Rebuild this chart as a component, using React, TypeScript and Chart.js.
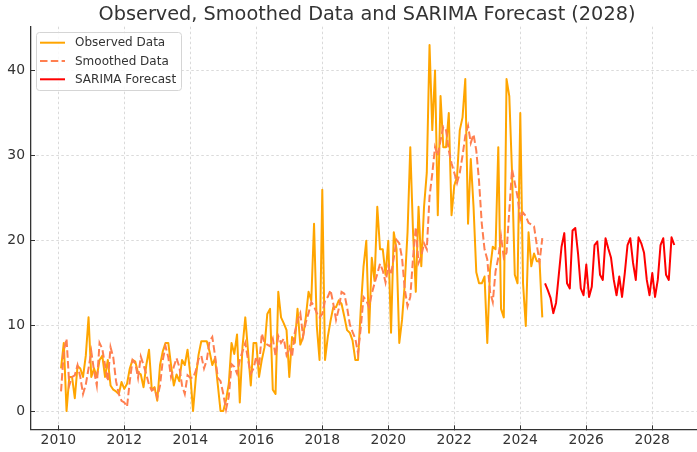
import React, { useEffect, useRef } from "react";
import { Chart, registerables } from "chart.js";

Chart.register(...registerables);

const TITLE = "Observed, Smoothed Data and SARIMA Forecast (2028)";
const START_YEAR = 2010;

// Monthly observed values, Jan 2010 – Aug 2024
const observed = [
  5, 8, 0, 4, 4, 1.5, 5.3, 5, 4, 6.5, 11, 4,
  5, 4, 6, 6.5, 4, 6, 3, 2.5, 2.3, 2, 3.4, 2.6,
  3.2, 5, 6, 5.8, 4.5, 4.3, 2.8, 5.4, 7.2, 2.5, 2.8, 1.2,
  5.4, 7, 8, 8, 5.4, 3, 4.3, 3.5, 6, 5.4, 7.2, 4.3,
  0, 3.9, 6.6, 8.2, 8.2, 8.2, 7, 5.4, 6.2, 3.1, 0, 0,
  1.3, 3.2, 8, 6.7, 9, 1, 7.6, 11, 7, 3, 8, 8,
  4, 6, 7.5, 11.4, 12, 2.5, 2, 14, 11, 10.3, 9.5, 4,
  8.7, 8, 12, 7.8, 8.7, 11, 14, 13, 22, 10, 6, 26,
  6, 8.7, 10.6, 12.2, 12.2, 13, 12.6, 11.1, 9.5, 9.2, 8.3, 6,
  6, 12, 17, 20, 9.2, 18, 15.3, 24, 19, 19, 16, 20,
  9.2, 21, 19, 8, 10.7, 15, 21, 31, 21, 14, 24, 17,
  24, 28, 43, 33, 40, 23, 37, 31, 31, 35, 23, 26.5,
  27.5, 33, 34.5, 39, 22, 29.6, 24, 16.3, 15, 15, 15.8, 8,
  16.6, 19.3, 19, 31, 12, 11, 39, 37, 28, 16, 15, 35,
  15, 10, 21, 17, 18.5, 17.6, 17.6, 11,
];

// Smoothed values, same months
const smoothed = [
  2.3, 7, 8.5, 3, 4, 4.2, 5.4, 4, 2, 3.1, 5, 7,
  4.7, 3, 8, 7.3, 5.4, 3.5, 7.5, 6.3, 3.5, 2, 1.2, 1,
  0.5, 3.5, 6, 5.6, 3.9, 6.4, 5.4, 4.3, 3.1, 2.4, 2.6, 1.6,
  3, 6, 7.6, 6.3, 4, 5.2, 6.2, 5.2, 3, 2, 4.2, 3.9,
  3.9, 4.7, 6.1, 6.5, 5, 6, 8.2, 8.7, 6.5, 3.9, 3.5, 2,
  0.2, 1.7, 5.5, 5.2, 4.4, 6, 7, 8, 6, 4.4, 5, 6.4,
  5.2, 9.1, 8, 7.8, 7.6, 8.5, 6.5, 8.8, 8, 8.5, 6.6, 7.5,
  6.4, 9.2, 10.7, 11.5, 8.8, 10.4, 11.5, 12.8, 12.3, 11.5, 11, 11.4,
  13, 13.4, 14.2, 12.6, 10.7, 12, 14, 13.8, 12.2, 10.2, 9.3, 8.5,
  6.8, 9.8, 13.4, 13, 12.2, 13.8, 15, 16.1, 17.3, 16.5, 15.1, 17,
  16, 18, 20.1, 19.7, 18, 14.3, 12.3, 13.4, 18, 21.6, 17.4, 18.2,
  19.7, 19, 25.2, 27.9, 31, 30, 31.8, 33.4, 33, 30.6, 29.1, 28,
  26.8, 28, 30, 32.3, 33.5, 31.5, 32.5, 30.6, 27, 22, 19, 17.8,
  14, 12.8, 16.4, 18, 20.5, 18, 18.6, 23.5, 28.4, 26.8, 25.2, 22.5,
  23.3, 22.9, 22.1, 21.9, 21.7, 19.5, 17.5, 20.3,
];

// SARIMA forecast, Sep 2024 – Aug 2028
const forecast = [
  15, 14.2, 13.3, 11.5, 12.7, 16, 19.3, 20.9, 15, 14.4, 21.2, 21.5,
  18.5, 14.4, 13.6, 17.2, 13.4, 14.6, 19.5, 19.9, 16, 15.4, 20.3, 19.1,
  18, 15.4, 13.6, 15.8, 13.4, 16.2, 19.5, 20.3, 17.4, 15.4, 20.4, 19.7,
  18.6, 15.4, 13.6, 16.2, 13.4, 15.4, 19.5, 20.3, 16, 15.4, 20.4, 19.5,
];

const xTicks = [2010, 2012, 2014, 2016, 2018, 2020, 2022, 2024, 2026, 2028];
const yTicks = [0, 10, 20, 30, 40];

const monthToYear = (i: number) => START_YEAR + (i + 1) / 12;

const TEXT = "#333333";
const FONT = "DejaVu Sans";

function roundedRect(ctx: CanvasRenderingContext2D, x: number, y: number, w: number, h: number, r: number) {
  ctx.beginPath();
  ctx.moveTo(x + r, y);
  ctx.arcTo(x + w, y, x + w, y + h, r);
  ctx.arcTo(x + w, y + h, x, y + h, r);
  ctx.arcTo(x, y + h, x, y, r);
  ctx.arcTo(x, y, x + w, y, r);
  ctx.closePath();
}

const titlePlugin = {
  id: "mplTitle",
  afterDraw(chart: any) {
    const ctx = chart.ctx as CanvasRenderingContext2D;
    ctx.save();
    ctx.font = `19.3px "${FONT}"`;
    ctx.fillStyle = TEXT;
    ctx.textAlign = "center";
    ctx.textBaseline = "alphabetic";
    ctx.fillText(TITLE, 367, 20);
    ctx.restore();
  },
};

const legendPlugin = {
  id: "mplLegend",
  afterDraw(chart: any) {
    const ctx = chart.ctx as CanvasRenderingContext2D;
    ctx.save();
    roundedRect(ctx, 36.5, 32.5, 145, 58, 3);
    ctx.fillStyle = "rgba(255,255,255,0.85)";
    ctx.fill();
    ctx.strokeStyle = "#d5d5d5";
    ctx.lineWidth = 1;
    ctx.stroke();
    chart.data.datasets.forEach((ds: any, i: number) => {
      const y = 42.7 + i * 18.3;
      ctx.beginPath();
      ctx.setLineDash(ds.borderDash || []);
      ctx.strokeStyle = ds.borderColor;
      ctx.lineWidth = ds.borderWidth;
      ctx.moveTo(40, y);
      ctx.lineTo(65, y);
      ctx.stroke();
      ctx.setLineDash([]);
      ctx.fillStyle = TEXT;
      ctx.font = `12px "${FONT}"`;
      ctx.textAlign = "left";
      ctx.textBaseline = "middle";
      ctx.fillText(ds.label, 75, y + 0.5);
    });
    ctx.restore();
  },
};

export default function App() {
  const canvasRef = useRef<HTMLCanvasElement | null>(null);

  useEffect(() => {
    document.body.style.margin = "0";
    const canvas = canvasRef.current;
    if (!canvas) return;

    const obsPts = observed.map((v, i) => ({ x: monthToYear(i), y: v }));
    const smPts = smoothed.map((v, i) => ({ x: monthToYear(i), y: v }));
    const fcPts = forecast.map((v, i) => ({ x: monthToYear(observed.length + i), y: v }));

    const gridCommon = {
      color: "#d0d0d0",
      lineWidth: 0.8,
      tickLength: -4,
      tickColor: "#333333",
      tickWidth: 1,
    };

    const chart = new Chart(canvas, {
      type: "line",
      data: {
        datasets: [
          {
            label: "Observed Data",
            data: obsPts,
            borderColor: "#FFA500",
            borderWidth: 2,
            borderJoinStyle: "round",
            pointRadius: 0,
            tension: 0,
            order: 3,
          },
          {
            label: "Smoothed Data",
            data: smPts,
            borderColor: "#FF7F50",
            borderWidth: 2,
            borderDash: [7.5, 3.3],
            pointRadius: 0,
            tension: 0,
            order: 2,
          },
          {
            label: "SARIMA Forecast",
            data: fcPts,
            borderColor: "#FF0000",
            borderWidth: 2,
            borderJoinStyle: "round",
            pointRadius: 0,
            tension: 0,
            order: 1,
          },
        ] as any,
      },
      options: {
        responsive: false,
        animation: false,
        devicePixelRatio: 1,
        layout: { padding: { top: 26.7, left: 0, right: 0, bottom: 0 } },
        plugins: {
          legend: { display: false },
          tooltip: { enabled: false },
          title: { display: false },
        },
        scales: {
          x: {
            type: "linear",
            min: 2009.173,
            max: 2029.355,
            afterBuildTicks: (s: any) => {
              s.ticks = xTicks.map((v) => ({ value: v }));
            },
            afterFit: (s: any) => {
              s.height = 22.7;
            },
            ticks: {
              callback: (v: any) => String(v),
              color: TEXT,
              font: { family: FONT, size: 13.9 },
              padding: 6.5,
              maxRotation: 0,
              autoSkip: false,
            },
            grid: gridCommon,
            border: { display: true, color: "#333333", width: 1.3, dash: [2.5, 2.5] },
          },
          y: {
            type: "linear",
            min: -2.15,
            max: 45.15,
            afterBuildTicks: (s: any) => {
              s.ticks = yTicks.map((v) => ({ value: v }));
            },
            afterFit: (s: any) => {
              s.width = 31;
            },
            ticks: {
              callback: (v: any) => String(v),
              color: TEXT,
              font: { family: FONT, size: 13.9 },
              padding: 10,
            },
            grid: gridCommon,
            border: { display: true, color: "#333333", width: 1.3, dash: [2.5, 2.5] },
          },
        },
      } as any,
      plugins: [titlePlugin, legendPlugin],
    });

    return () => chart.destroy();
  }, []);

  return (
    <div style={{ width: 697, height: 452 }}>
      <canvas ref={canvasRef} width={697} height={452} style={{ display: "block" }} />
    </div>
  );
}
